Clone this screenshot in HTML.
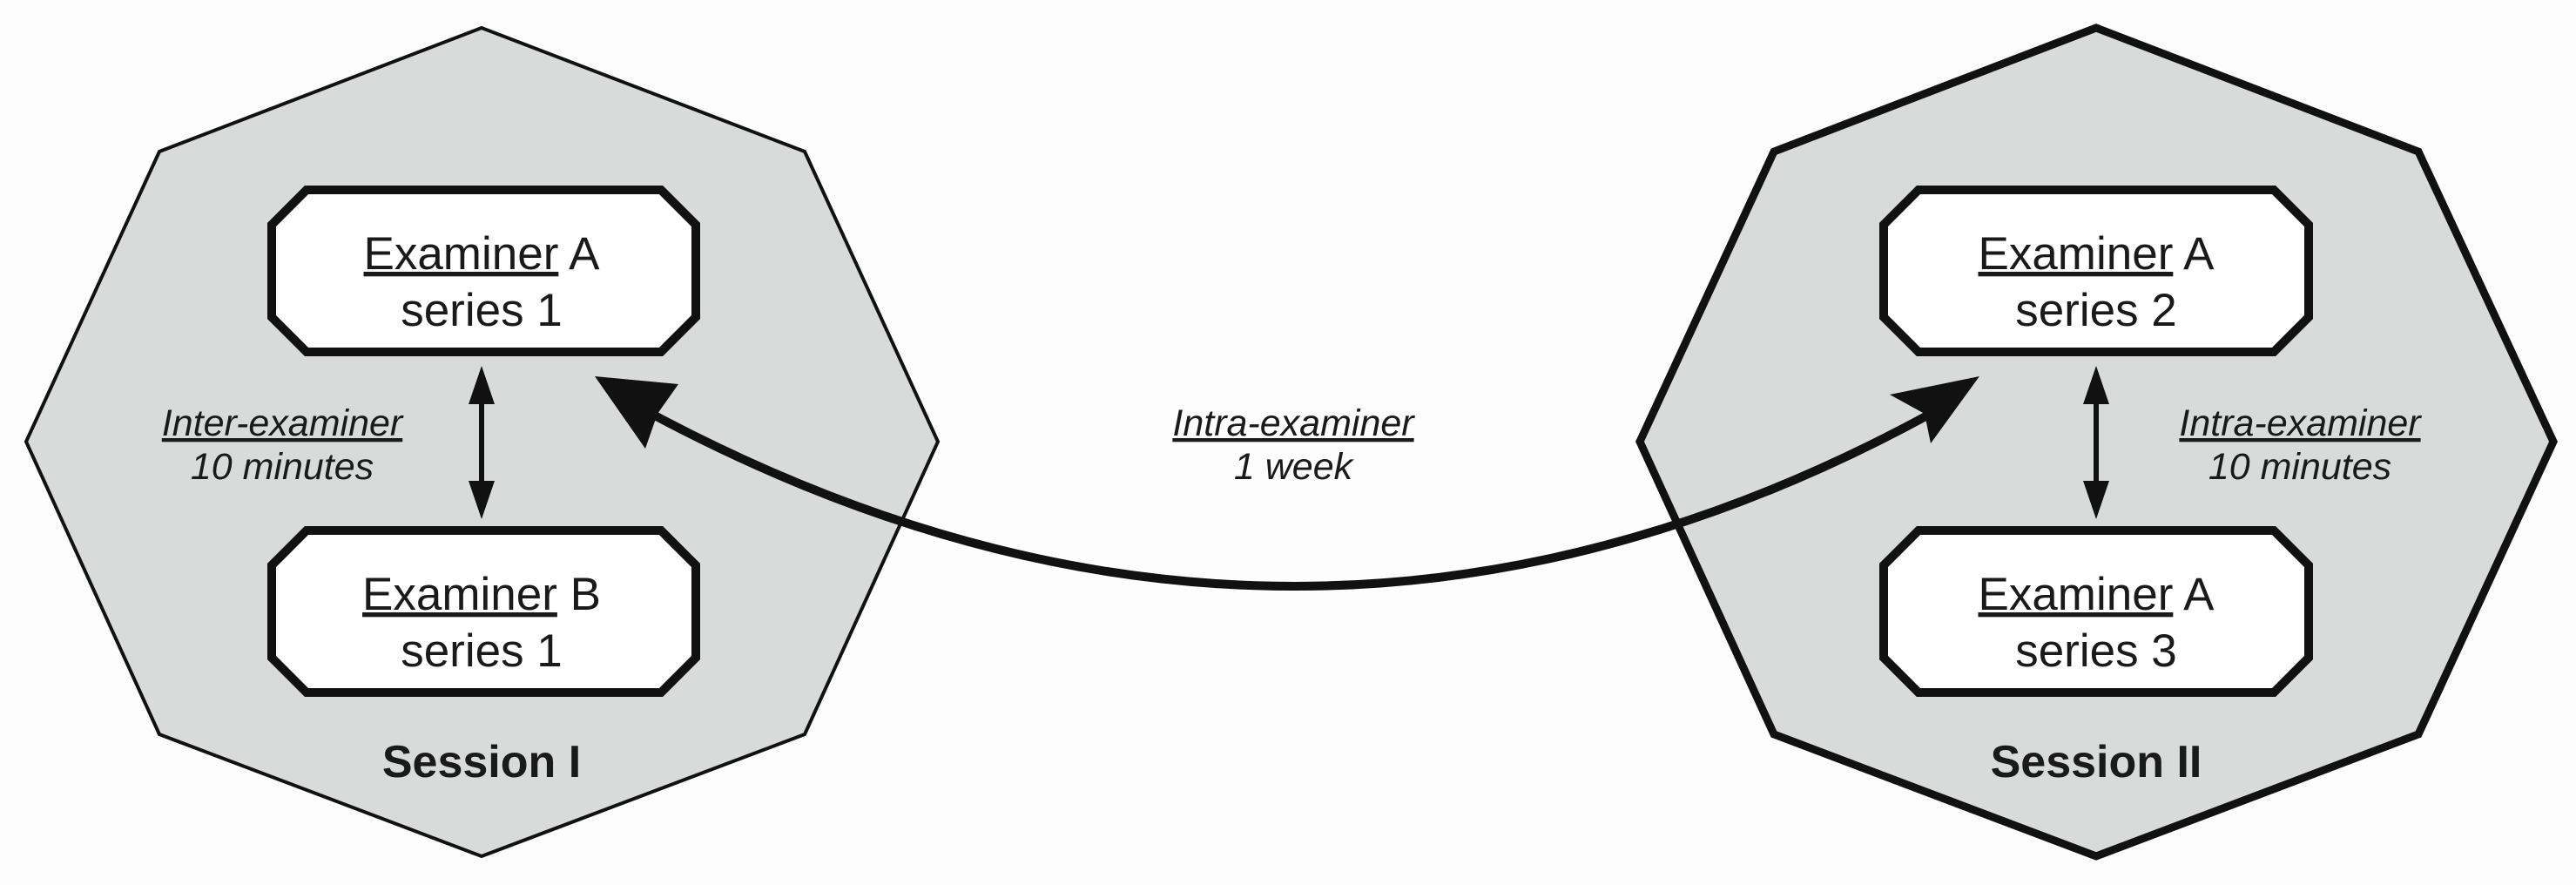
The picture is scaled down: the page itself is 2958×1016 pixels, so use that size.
<!DOCTYPE html>
<html><head><style>
html,body{margin:0;padding:0;background:#fdfdfd;}
svg{display:block;}
text{font-family:"Liberation Sans",Arial,sans-serif;fill:#1a1a1a;}
</style></head><body>
<svg width="2958" height="1016" viewBox="0 0 2958 1016" xmlns="http://www.w3.org/2000/svg">
<rect width="2958" height="1016" fill="#fdfdfd"/>
<polygon points="553,32 924,174 1077,507 924,843 553,983 183,843 30,507 183,174" fill="#d9dbdb" stroke="#111" stroke-width="4"/>
<polygon points="2407,32 2777,174 2932,507 2777,843 2407,983 2037,843 1883,507 2037,174" fill="#d9dbdb" stroke="#111" stroke-width="9"/>
<g fill="#fff" stroke="#111" stroke-width="10">
<polygon points="352,218 759,218 799,258 799,364 759,404 352,404 312,364 312,258"/>
<polygon points="352,609 759,609 799,649 799,755 759,795 352,795 312,755 312,649"/>
<polygon points="2203,218 2611,218 2651,258 2651,364 2611,404 2203,404 2163,364 2163,258"/>
<polygon points="2203,609 2611,609 2651,649 2651,755 2611,795 2203,795 2163,755 2163,649"/>
</g>
<g font-size="53" text-anchor="middle">
<text x="553" y="309"><tspan text-decoration="underline">Examiner</tspan> A</text>
<text x="553" y="374">series 1</text>
<text x="553" y="700"><tspan text-decoration="underline">Examiner</tspan> B</text>
<text x="553" y="765">series 1</text>
<text x="2407" y="309"><tspan text-decoration="underline">Examiner</tspan> A</text>
<text x="2407" y="374">series 2</text>
<text x="2407" y="700"><tspan text-decoration="underline">Examiner</tspan> A</text>
<text x="2407" y="765">series 3</text>
</g>
<g stroke="#111" stroke-width="6">
<line x1="553" y1="445" x2="553" y2="570"/>
<line x1="2407" y1="445" x2="2407" y2="570"/>
</g>
<g fill="#111">
<polygon points="553,420 538,464 568,464"/>
<polygon points="553,596 538,552 568,552"/>
<polygon points="2407,420 2392,464 2422,464"/>
<polygon points="2407,596 2392,552 2422,552"/>
</g>
<g font-size="43" font-style="italic" text-anchor="middle">
<text x="324" y="500" text-decoration="underline">Inter-examiner</text>
<text x="324" y="550">10 minutes</text>
<text x="1485" y="500" text-decoration="underline">Intra-examiner</text>
<text x="1485" y="550">1 week</text>
<text x="2641" y="500" text-decoration="underline">Intra-examiner</text>
<text x="2641" y="550">10 minutes</text>
</g>
<g font-size="52" font-weight="bold" text-anchor="middle">
<text x="553" y="892">Session I</text>
<text x="2407" y="892">Session II</text>
</g>
<path d="M 750 476 Q 1490 870 2215 476" fill="none" stroke="#111" stroke-width="10"/>
<polygon points="683,432 779,441 755,475 741,515" fill="#111"/>
<polygon points="2273,432 2170,453 2210,475 2217,509" fill="#111"/>
</svg>
</body></html>
